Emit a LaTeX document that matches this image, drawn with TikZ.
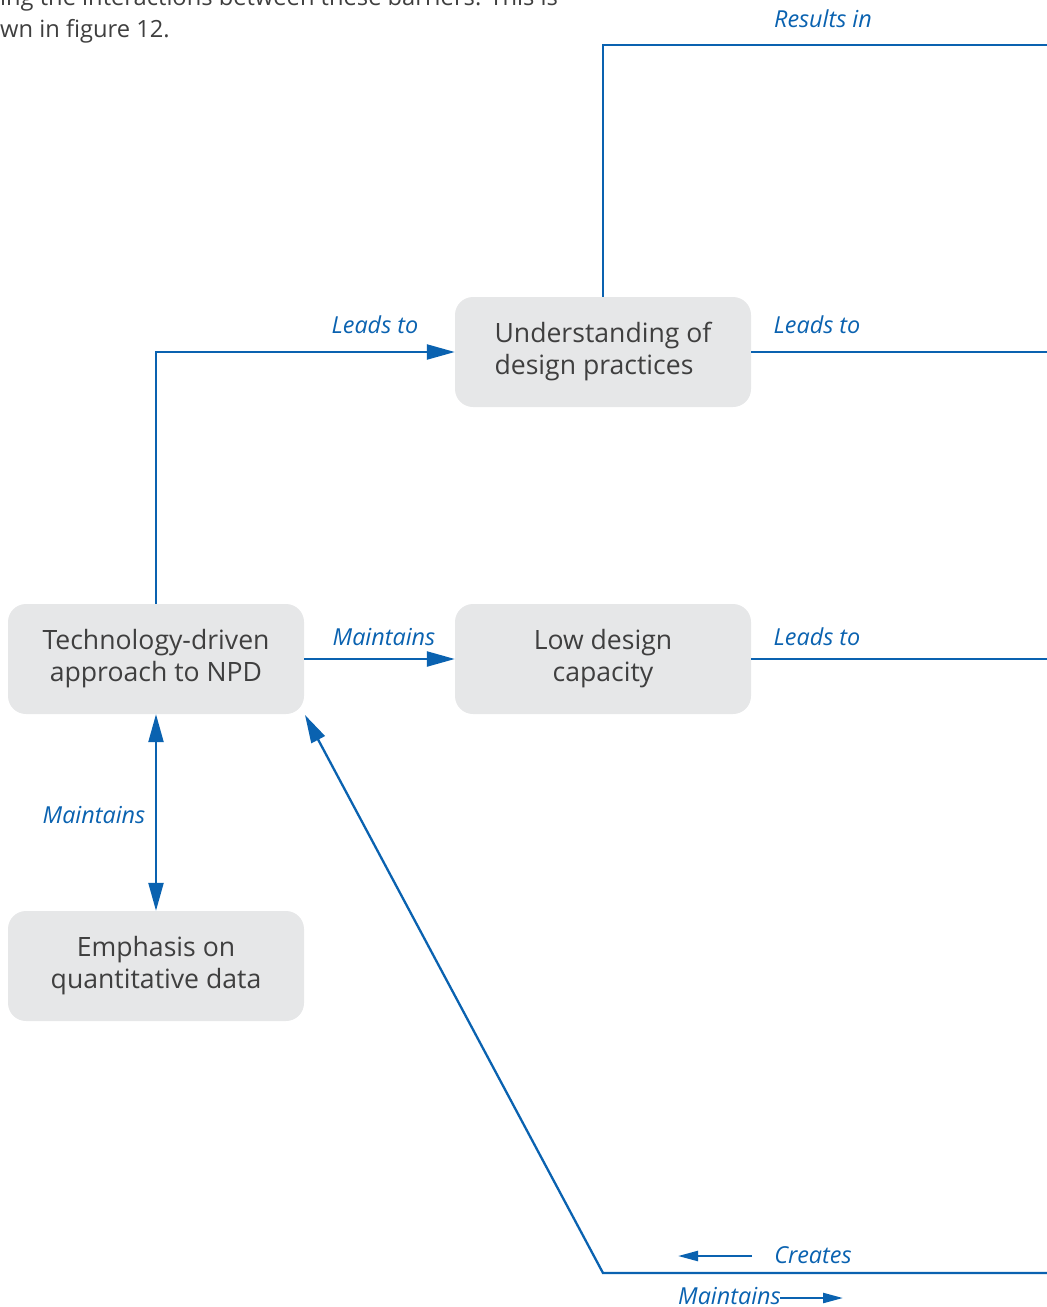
\documentclass[tikz,border=0pt]{standalone}
\usepackage{fontspec}
\setmainfont{Open Sans}
\usetikzlibrary{arrows.meta}
\definecolor{flowblue}{HTML}{0A62B0}
\definecolor{boxgray}{HTML}{E6E7E8}
\definecolor{boxtext}{HTML}{3F3F3F}
\begin{document}
\begin{tikzpicture}[x=1pt,y=-1pt,
  barrier/.style={draw=none,fill=boxgray,rounded corners=18pt,minimum width=296pt,
    minimum height=110pt,align=center,text=boxtext,
    font=\fontsize{26.6}{32}\selectfont,inner sep=0pt},
  link/.style={draw=flowblue,line width=2.3pt},
  bigtip/.style={-{Triangle[length=28pt,width=15pt]}},
  lbl/.style={text=flowblue,font=\fontsize{23.4}{26}\selectfont\itshape,inner sep=0pt},
  smalltip/.style={-{Triangle[length=20pt,width=10pt]}}]
\useasboundingbox (0,0) rectangle (1047,1307);

% running text above the figure
\node[anchor=base west,inner sep=0pt,text=boxtext,font=\fontsize{23.7}{32}\selectfont]
  (para) at (0,5) {ing the interactions between these barriers. This is};
\node[anchor=base west,inner sep=0pt,text=boxtext,font=\fontsize{23.7}{32}\selectfont]
  (para2) at (0,37) {wn in figure 12.};

% barriers
\node[barrier,align=left] (und) at (603,352) {Understanding of\\design practices};
\node[barrier] (low) at (603,659) {Low design\\capacity};
\node[barrier] (tech) at (156,659) {Technology-driven\\approach to NPD};
\node[barrier] (emph) at (156,966) {Emphasis on\\quantitative data};

% free ends at the right margin
\coordinate (resultsEnd) at (1047,45);
\coordinate (undEnd) at (1047,352);
\coordinate (lowEnd) at (1047,659);
\coordinate (loopEnd) at (1047,1273);
\coordinate (loopCorner) at (603,1273);
\coordinate (loopTip) at (305,715);

% connectors
\draw[link] (und.north) |- (resultsEnd);
\draw[link] (und.east) -- (undEnd);
\draw[link,bigtip] (tech.north) |- (und.west);
\draw[link,bigtip] (tech.east) -- (low.west);
\draw[link] (low.east) -- (lowEnd);
\draw[link,{Triangle[length=28pt,width=15pt]}-{Triangle[length=28pt,width=15pt]}] (tech.south) -- (emph.north);
\draw[link,bigtip] (loopEnd) -- (loopCorner) -- (loopTip);

% direction hints on the loop
\coordinate (crA) at (752,1256);
\coordinate (crB) at (678,1256);
\coordinate (mnA) at (780,1298);
\coordinate (mnB) at (843,1298);
\draw[link,smalltip] (crA) -- (crB);
\draw[link,smalltip] (mnA) -- (mnB);

% labels
\node[lbl] (lResults) at (823,19) {Results in};
\node[lbl] (lUnd) at (817,325) {Leads to};
\node[lbl] (lTech) at (375,325) {Leads to};
\node[lbl] (lMaint) at (384,637) {Maintains};
\node[lbl] (lLow) at (817,637) {Leads to};
\node[lbl] (lEmph) at (94,815) {Maintains};
\node[lbl] (lCreates) at (813,1255) {Creates};
\node[lbl,anchor=east] (lMaintains2) at (781,1296) {Maintains};
\end{tikzpicture}
\end{document}
